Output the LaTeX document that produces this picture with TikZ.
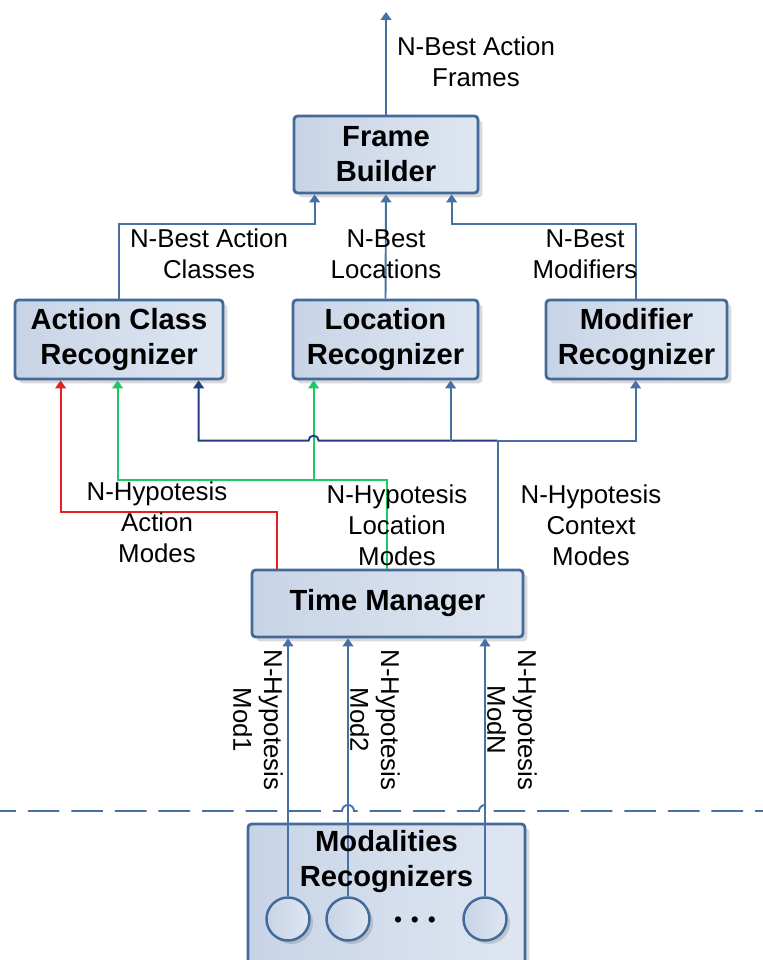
\documentclass[tikz,border=0pt]{standalone}
\usepackage{fontspec}
\setmainfont{Liberation Sans}
\usetikzlibrary{arrows.meta,calc,shadows}

\definecolor{boxfill}{RGB}{200,212,230}
\definecolor{boxfill2}{RGB}{222,230,241}
\definecolor{boxline}{RGB}{66,106,154}
\definecolor{wireblue}{RGB}{72,112,164}
\definecolor{navyblue}{RGB}{32,62,128}
\definecolor{wirered}{RGB}{228,32,32}
\definecolor{wiregreen}{RGB}{30,200,100}

\tikzset{
  block/.style={draw=boxline,line width=1.6pt,rounded corners=2pt,
    left color=boxfill,right color=boxfill2,
    drop shadow={shadow xshift=2.5pt,shadow yshift=-2.5pt,opacity=.25,fill=black!60},
    font=\fontsize{16.6}{20}\selectfont\bfseries,align=center,inner sep=0pt},
  blocktext/.style={font=\fontsize{16.6}{20}\selectfont\bfseries,align=center,inner sep=0pt},
  modc/.style={circle,draw=boxline,line width=1.4pt,left color=boxfill,right color=boxfill2,
    minimum size=0.86cm,inner sep=0pt,
    drop shadow={shadow xshift=2pt,shadow yshift=-2pt,opacity=.25,fill=black!60}},
  lbl/.style={font=\fontsize{14.7}{17.6}\selectfont,align=center,inner sep=0pt},
  wire/.style={draw=wireblue,line width=1.1pt,-{Triangle[width=6pt,length=4.5pt]}},
  navywire/.style={wire,draw=navyblue},
  redwire/.style={wire,draw=wirered},
  greenwire/.style={wire,draw=wiregreen},
  sepline/.style={draw=wireblue,line width=1.1pt,dash pattern=on 18pt off 6.8pt,dash phase=9pt}
}

\begin{document}
\begin{tikzpicture}[x=0.02cm,y=0.02cm]
\useasboundingbox (0,0) rectangle (763,960);
\clip (0,0) rectangle (763,960);

% recognizers and managers
\node[block,minimum width=3.68cm,minimum height=1.54cm] (fb) at (386,805.5) {Frame\\Builder};
\node[block,minimum width=4.16cm,minimum height=1.58cm] (ac) at (119,620.5) {Action Class\\Recognizer};
\node[block,minimum width=3.70cm,minimum height=1.58cm] (lc) at (385.5,620.5) {Location\\Recognizer};
\node[block,minimum width=3.62cm,minimum height=1.58cm] (mr) at (636.5,620.5) {Modifier\\Recognizer};
\node[block,minimum width=5.42cm,minimum height=1.34cm] (tm) at (387.5,356.5) {Time Manager};
\node[block,minimum width=5.54cm,minimum height=3.14cm] (mm) at (386.5,57.5) {};

% single modality recognizers
\node[modc] (c1) at (288,41) {};
\node[modc] (c2) at (348,41) {};
\node[modc] (c3) at (485,41) {};
\node[font=\fontsize{13}{13}\selectfont,inner sep=0pt] (dots) at (415,38) {\textbullet\hspace{5pt}\textbullet\hspace{5pt}\textbullet};

% output and n-best links
\coordinate (out) at (386,948);
\draw[wire] (fb.north) -- (out);
\draw[wire] ($(ac.north west)+(105,0)$) |- ($(fb.south west)+(22,-30)$) -- ($(fb.south west)+(22,0)$);
\draw[wire] (lc.north) -- (fb.south);
\draw[wire] ($(mr.north west)+(91,0)$) |- ($(fb.south west)+(159,-30)$) -- ($(fb.south west)+(159,0)$);

% hypotesis links from the time manager
\draw[redwire] ($(tm.north west)+(26,0)$) -- ++(0,57) -| ($(ac.south west)+(47,0)$);
\coordinate (gsplit) at ($(lc.south west)+(22,-100)$);
\draw[greenwire] ($(tm.north west)+(136,0)$) |- (gsplit) -| ($(ac.south west)+(104,0)$);
\draw[greenwire] (gsplit) -- ($(lc.south west)+(22,0)$);
\draw[draw=wireblue,line width=1.1pt] ($(tm.north west)+(247,0)$) -- ++(0,128) coordinate (bsplit);
\draw[navywire] (bsplit) -- ($(gsplit |- bsplit)+(5,0)$) arc[start angle=0,end angle=180,radius=5] -| ($(ac.south west)+(185,0)$);
\coordinate (ltap) at ($(lc.south west)+(159,0)$);
\draw[wire] (ltap |- bsplit) -- (ltap);
\draw[wire] (bsplit) -| ($(mr.south west)+(91,0)$);

% modality links
\draw[wire] (c1.north) -- (c1.north |- tm.south);
\draw[wire] (c2.north) -- (c2.north |- tm.south);
\draw[wire] (c3.north) -- (c3.north |- tm.south);

\coordinate (sepL) at (0,149);
\coordinate (sepR) at (763,149);
\draw[sepline] (sepL) -- ($(c2 |- sepL)+(-6,0)$) arc[start angle=180,end angle=0,radius=6]
  -- ($(c3 |- sepL)+(-6,0)$) arc[start angle=180,end angle=0,radius=6] -- (sepR);

\node[blocktext] (mmtxt) at ($(mm.north)+(0,-39)$) {Modalities\\Recognizers};

% labels
\node[lbl] (outlbl) at (476,898) {N-Best Action\\Frames};
\node[lbl] (aclbl) at (209,706) {N-Best Action\\Classes};
\node[lbl] (lclbl) at (386,706) {N-Best\\Locations};
\node[lbl] (mrlbl) at (585,706) {N-Best\\Modifiers};
\node[lbl] (actm) at (157,438) {N-Hypotesis\\Action\\Modes};
\node[lbl] (loctm) at (397,435) {N-Hypotesis\\Location\\Modes};
\node[lbl] (ctxtm) at (591,435) {N-Hypotesis\\Context\\Modes};
\node[lbl,rotate=-90] (m1) at (258,240) {N-Hypotesis\\Mod1};
\node[lbl,rotate=-90] (m2) at (375,240) {N-Hypotesis\\Mod2};
\node[lbl,rotate=-90] (mn) at (512,240) {N-Hypotesis\\ModN};
\end{tikzpicture}
\end{document}
